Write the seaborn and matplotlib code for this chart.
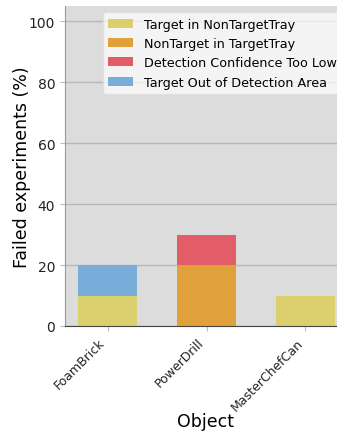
import numpy as np
import pandas as pd
import seaborn as sns
import matplotlib.pyplot as plt

objects = ['FoamBrick', 'PowerDrill', 'MasterChefCan']
failure_types = ['Target in NonTargetTray', 'NonTarget in TargetTray',
                 'Detection Confidence Too Low', 'Target Out of Detection Area']
target_in_nontarget = [10, 0, 10]
nontarget_in_target = [0, 20, 0]
confidence_low = [0, 10, 0]
out_of_area = [10, 0, 0]
colors = ['#DCD06E', '#E0A13A', '#E35D68', '#77ADD8']

series = [target_in_nontarget, nontarget_in_target, confidence_low, out_of_area]

plt.rcParams['font.family'] = 'DejaVu Sans'
fig = plt.figure(figsize=(3.37, 4.35), dpi=100)
ax = fig.add_axes([65 / 337, 108 / 435, 283 / 337, 320 / 435])
ax.set_facecolor('#DCDCDC')
ax.set_axisbelow(True)
ax.yaxis.grid(True, color='#B8B8B8', linewidth=1)

# stacked bars, one call per failure type
bottom = np.zeros(len(objects))
for name, vals, col in zip(failure_types, series, colors):
    df = pd.DataFrame({'Object': objects, 'val': vals})
    sns.barplot(data=df, x='Object', y='val', color=col, bottom=bottom,
                width=0.6, label=name, ax=ax, saturation=1)
    bottom = bottom + np.array(vals)

ax.set_xlim(-0.43, 2.43)
ax.set_ylim(0, 105)
ax.set_yticks([0, 20, 40, 60, 80, 100])
ax.set_xlabel('Object', fontsize=12.5, va='top')
ax.set_ylabel('Failed experiments (%)', fontsize=12.5, va='center')
ax.xaxis.set_label_coords(0.498, -0.27)
ax.yaxis.set_label_coords(-0.152, 0.5)
ax.tick_params(axis='both', colors='#BBBBBB', labelcolor='#222222', length=3.5)
ax.tick_params(axis='y', labelsize=10)
ax.tick_params(axis='x', labelsize=9)
plt.setp(ax.get_xticklabels(), rotation=45, ha='right')
for s in ['top', 'right']:
    ax.spines[s].set_visible(False)
ax.spines['bottom'].set_color('#444444')
ax.spines['left'].set_color('#999999')

ax.legend(loc='upper right', bbox_to_anchor=(1.0, 1), fontsize=9.2,
          framealpha=0.7, edgecolor='#DDDDDD')

fig.savefig('out.png', dpi=100)
